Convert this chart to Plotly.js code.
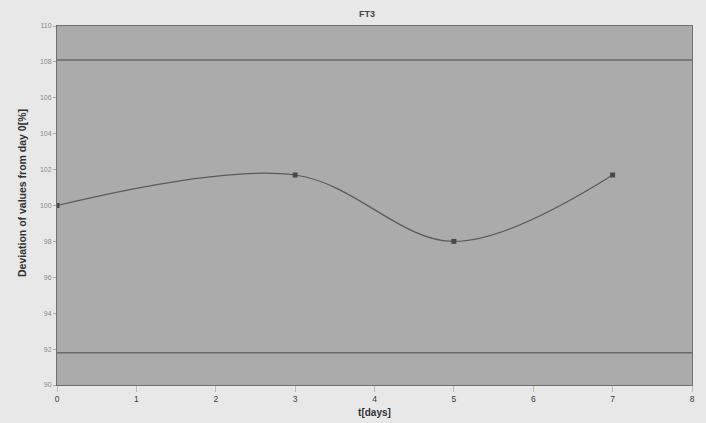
<!DOCTYPE html>
<html><head><meta charset="utf-8">
<script src="https://cdn.plot.ly/plotly-3.0.1.min.js"></script>
<style>html,body{margin:0;padding:0;background:#e8e8e8;}</style>
</head><body><div id="chart" style="width:706px;height:423px;"></div>
<script>
var days = [0, 3, 5, 7];
var deviation = [100, 101.7, 98.0, 101.7];
var upperLimit = 108.1;
var lowerLimit = 91.8;
var xRange = [0, 8];
var yTicks = [90, 92, 94, 96, 98, 100, 102, 104, 106, 108, 110];

var traces = [
  {x: xRange, y: [upperLimit, upperLimit], mode: 'lines', line: {color: '#6a6a6a', width: 1.5}, hoverinfo: 'skip'},
  {x: xRange, y: [lowerLimit, lowerLimit], mode: 'lines', line: {color: '#6a6a6a', width: 1.5}, hoverinfo: 'skip'},
  {x: days, y: deviation, mode: 'lines+markers', line: {color: '#5a5a5a', width: 1.2, shape: 'spline', smoothing: 1.0},
   marker: {symbol: 'square', size: 5, color: '#4a4a4a'}}
];
var layout = {
  width: 706, height: 423,
  margin: {l: 57, r: 14, t: 26, b: 38},
  paper_bgcolor: '#e8e8e8', plot_bgcolor: '#ababab',
  showlegend: false,
  title: {text: '<b>FT3</b>', font: {family: 'Arial, Liberation Sans', size: 9, color: '#444'}, x: 0.52, xanchor: 'center', y: 0.975},
  xaxis: {range: xRange, dtick: 1, showgrid: false, zeroline: false, showline: true, linecolor: '#707070', mirror: true,
    ticks: 'outside', ticklen: 6, tickcolor: '#bbb',
    tickfont: {family: 'Arial, Liberation Sans', size: 8.5, color: '#3a3a3a'},
    title: {text: '<b>t[days]</b>', font: {family: 'Arial, Liberation Sans', size: 10, color: '#333'}, standoff: 5}},
  yaxis: {range: [90, 110], tickvals: yTicks, showgrid: false, zeroline: false, showline: true, linecolor: '#707070', mirror: true,
    ticks: 'outside', ticklen: 3, tickcolor: '#aaa',
    tickfont: {family: 'Arial, Liberation Sans', size: 7, color: '#888'}},
  annotations: [{text: '<b>Deviation of values from day 0[%]</b>', xref: 'paper', yref: 'paper', x: -0.055, y: 0.535,
    xanchor: 'center', yanchor: 'middle', textangle: -90, showarrow: false,
    font: {family: 'Arial, Liberation Sans', size: 10.5, color: '#333'}}]
};
Plotly.newPlot('chart', traces, layout, {displayModeBar: false, staticPlot: true});
</script></body></html>
